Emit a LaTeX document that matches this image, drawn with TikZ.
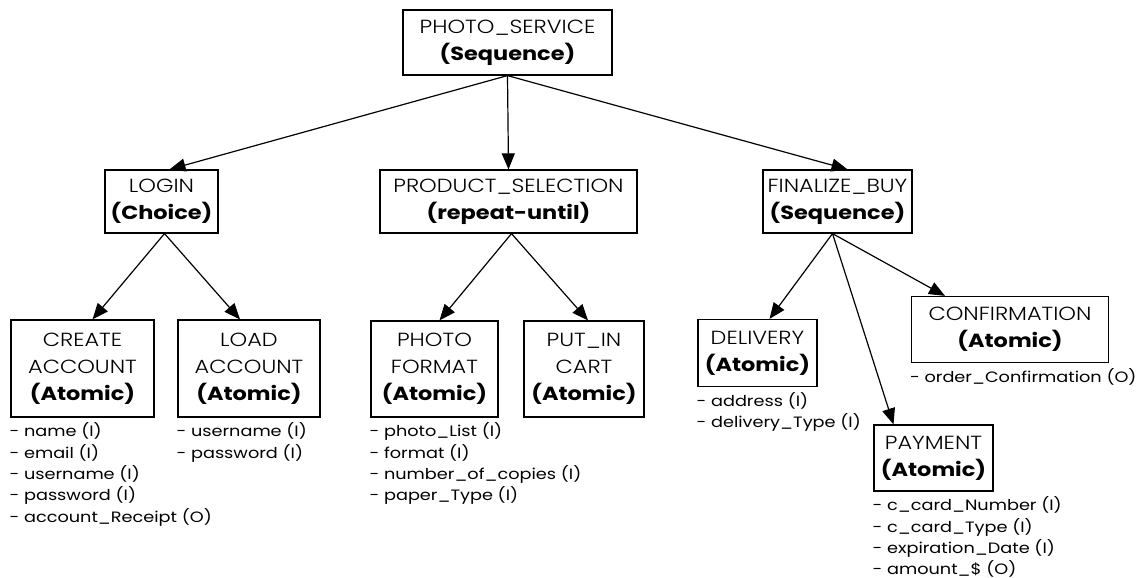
\documentclass[tikz,border=0pt]{standalone}
\usepackage{fontspec}
\setmainfont{Poppins}[FakeStretch=1.18]
\newfontfamily\titlefont{Poppins}[UprightFont=* Light, BoldFont=* Bold, FakeStretch=1.18]
\usepackage{tikz}
\usetikzlibrary{arrows.meta,positioning}

\tikzset{
  task/.style={draw=black, line width=1.2pt, align=center, inner sep=2pt,
    font=\titlefont\fontsize{19}{27}\selectfont},
  attr/.style={align=left, anchor=north west, inner sep=0pt,
    font=\fontsize{15}{21.3}\selectfont},
  arr/.style={line width=1.2pt, -{Triangle[length=16pt,width=13pt]}}
}

\begin{document}
\begin{tikzpicture}[x=1pt,y=-1pt]
        \useasboundingbox[fill=white] (0,0) rectangle (1136,578);

        % top level
        \node[task, minimum width=209pt, minimum height=65pt] (photo) at (507.5,42.5) {PHOTO\_SERVICE\\\textbf{(Sequence)}};

        % second level
        \node[task, minimum width=113pt, minimum height=63pt] (login) at (161.5,201.5) {LOGIN\\\textbf{(Choice)}};
        \node[task, minimum width=257pt, minimum height=63pt] (product) at (508.5,201.5) {PRODUCT\_SELECTION\\\textbf{(repeat-until)}};
        \node[task, minimum width=149pt, minimum height=63pt] (finalize) at (837.5,201.5) {FINALIZE\_BUY\\\textbf{(Sequence)}};

        % atomic tasks
        \node[task, minimum width=143pt, minimum height=97pt] (create) at (82.5,368.5) {CREATE\\ACCOUNT\\\textbf{(Atomic)}};
        \node[task, minimum width=142pt, minimum height=97pt] (load) at (249,368.5) {LOAD\\ACCOUNT\\\textbf{(Atomic)}};
        \node[task, minimum width=127pt, minimum height=96pt] (format) at (434.5,369) {PHOTO\\FORMAT\\\textbf{(Atomic)}};
        \node[task, minimum width=120pt, minimum height=96pt] (cart) at (584,369) {PUT\_IN\\CART\\\textbf{(Atomic)}};
        \node[task, minimum width=119pt, minimum height=67pt] (delivery) at (757.5,353) {DELIVERY\\\textbf{(Atomic)}};
        \node[task, minimum width=197pt, minimum height=66pt] (confirm) at (1010,329.5) {CONFIRMATION\\\textbf{(Atomic)}};
        \node[task, minimum width=119pt, minimum height=66pt] (payment) at (933.5,458) {PAYMENT\\\textbf{(Atomic)}};

        % parameters
        \node[attr] (createattr) at ([xshift=-1pt,yshift=-5pt]create.south west) {- name (I)\\- email (I)\\- username (I)\\- password (I)\\- account\_Receipt (O)};
        \node[attr] (loadattr) at ([xshift=-1pt,yshift=-5pt]load.south west) {- username (I)\\- password (I)};
        \node[attr] (formatattr) at ([xshift=-1pt,yshift=-5pt]format.south west) {- photo\_List (I)\\- format (I)\\- number\_of\_copies (I)\\- paper\_Type (I)};
        \node[attr] (deliveryattr) at ([xshift=-1pt,yshift=-5pt]delivery.south west) {- address (I)\\- delivery\_Type (I)};
        \node[attr] (confirmattr) at ([xshift=-1pt,yshift=-5pt]confirm.south west) {- order\_Confirmation (O)};
        \node[attr] (paymentattr) at ([xshift=-1pt,yshift=-5pt]payment.south west) {- c\_card\_Number (I)\\- c\_card\_Type (I)\\- expiration\_Date (I)\\- amount\_\$ (O)};

        % arrows
        \draw[arr] (photo.south) -- ([xshift=8pt]login.north);
        \draw[arr] (photo.south) -- (product.north);
        \draw[arr] (photo.south) -- ([xshift=10pt]finalize.north);
        \draw[arr] ([xshift=3pt]login.south) -- ([xshift=10pt]create.north);
        \draw[arr] ([xshift=3pt]login.south) -- ([xshift=-9pt]load.north);
        \draw[arr] ([xshift=3pt]product.south) -- ([xshift=5pt]format.north);
        \draw[arr] ([xshift=3pt]product.south) -- ([xshift=4pt]cart.north);
        \draw[arr] ([xshift=-5pt]finalize.south) -- ([xshift=12pt]delivery.north);
        \draw[arr] ([xshift=-5pt]finalize.south) -- ([xshift=-40pt]payment.north);
        \draw[arr] ([xshift=-5pt]finalize.south) -- ([xshift=-65pt]confirm.north);
\end{tikzpicture}
\end{document}
